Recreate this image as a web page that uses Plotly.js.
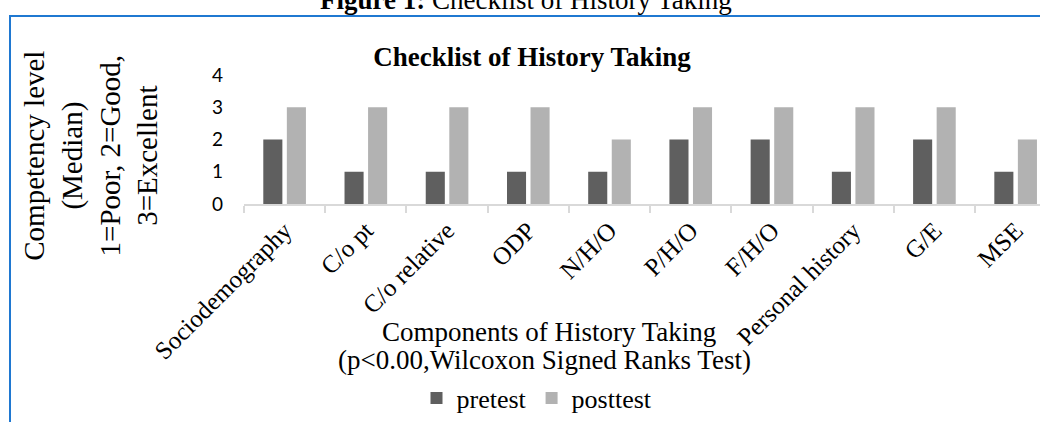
<!DOCTYPE html>
<html>
<head>
<meta charset="utf-8">
<script src="https://cdn.plot.ly/plotly-3.0.1.min.js"></script>
<style>
  html, body { margin: 0; padding: 0; background: #ffffff; overflow: hidden; }
  #wrap { position: relative; width: 1040px; height: 422px; }
  #chart { position: absolute; left: 0; top: 0; width: 1040px; height: 422px; }
  #frame { position: absolute; left: 9px; top: 15px; width: 1031px; height: 407px;
           border-top: 2px solid #1f78d1; border-left: 2px solid #1f78d1; box-sizing: border-box;
           pointer-events: none; }
</style>
</head>
<body>
<div id="wrap">
  <div id="chart"></div>
  <div id="frame"></div>
</div>
<script>
var categories = ['Sociodemography', 'C/o pt', 'C/o relative', 'ODP', 'N/H/O', 'P/H/O', 'F/H/O', 'Personal history', 'G/E', 'MSE'];
var pretest  = [2, 1, 1, 1, 1, 2, 2, 1, 2, 1];
var posttest = [3, 3, 3, 3, 2, 3, 3, 3, 3, 2];
var yTicks = [0, 1, 2, 3, 4];

var serif = 'Liberation Serif, Times New Roman, serif';

var W = 1040, H = 422;
var mL = 244, mR = 0, mT = 75, mB = 216;
var pw = W - mL - mR, ph = H - mT - mB;
function px(x) { return (x - mL) / pw; }
function py(y) { return (H - mB - y) / ph; }

var traces = [
  { type: 'bar', name: 'pretest', x: categories, y: pretest,
    marker: { color: '#5f5f5f' } },
  { type: 'bar', name: 'posttest', x: categories, y: posttest,
    marker: { color: '#b2b2b2' } }
];

var layout = {
  width: W, height: H,
  margin: { l: mL, r: mR, t: mT, b: mB, pad: 0 },
  paper_bgcolor: '#ffffff', plot_bgcolor: '#ffffff',
  barmode: 'group', bargap: 0.42, bargroupgap: 0.19,
  showlegend: true,
  title: { text: '<b>Checklist of History Taking</b>', x: 532 / W, xref: 'container', xanchor: 'center',
           y: 1 - 57 / H, yref: 'container', yanchor: 'middle',
           font: { family: serif, size: 27, color: '#000000' } },
  xaxis: {
    type: 'category', range: [-0.5, 9.3], fixedrange: true,
    showline: true, linecolor: '#d9d9d9', linewidth: 2,
    ticks: 'outside', tickson: 'boundaries', ticklen: 7, tickcolor: '#d9d9d9', tickwidth: 2,
    tickangle: -45, showgrid: false, zeroline: false,
    tickfont: { family: serif, size: 25, color: '#000000' }
  },
  yaxis: {
    range: [0, 4], tickvals: yTicks, ticktext: yTicks.map(String),
    showline: false, showgrid: false, zeroline: false, ticks: '',
    ticklabelstandoff: 20,
    tickfont: { family: 'Lato, Carlito, sans-serif', size: 19, color: '#000000' }
  },
  legend: {
    orientation: 'h', x: px(537), xanchor: 'center', y: py(403), yanchor: 'middle',
    font: { family: serif, size: 26, color: '#000000' }, bgcolor: 'rgba(0,0,0,0)',
    traceorder: 'normal'
  },
  annotations: [
    { text: '<b>Figure 1:</b> Checklist of History Taking', xref: 'paper', yref: 'paper',
      x: px(526), y: py(-1), xanchor: 'center', yanchor: 'middle', showarrow: false,
      font: { family: serif, size: 27, color: '#000000' } },
    { text: 'Competency level<br>(Median)<br>1=Poor, 2=Good,<br>3=Excellent', xref: 'paper', yref: 'paper',
      x: px(91), y: py(157), xanchor: 'center', yanchor: 'middle', textangle: -90, align: 'center',
      showarrow: false, font: { family: serif, size: 29, color: '#000000' } },
    { text: 'Components of History Taking', xref: 'paper', yref: 'paper',
      x: px(549), y: py(336), xanchor: 'center', yanchor: 'middle', showarrow: false,
      font: { family: serif, size: 27, color: '#000000' } },
    { text: '(p&lt;0.00,Wilcoxon Signed Ranks Test)', xref: 'paper', yref: 'paper',
      x: px(544), y: py(364), xanchor: 'center', yanchor: 'middle', showarrow: false,
      font: { family: serif, size: 27, color: '#000000' } }
  ]
};

Plotly.newPlot('chart', traces, layout, { displayModeBar: false, staticPlot: true });
</script>
</body>
</html>
